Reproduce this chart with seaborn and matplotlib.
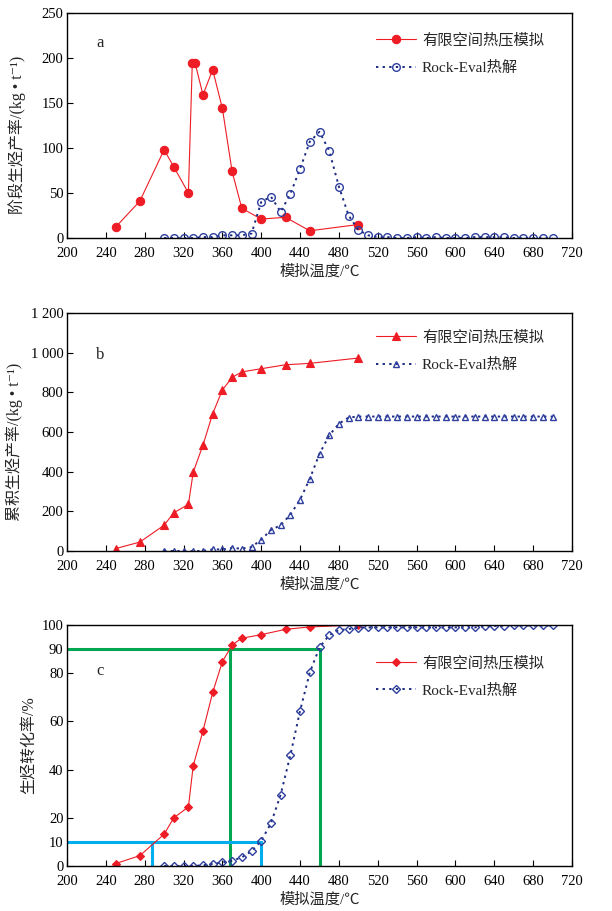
import numpy as np
import pandas as pd
import matplotlib
matplotlib.use("Agg")
import matplotlib.pyplot as plt
import seaborn as sns

# ---------------- data ----------------
# panel a: stage yield (kg/t)
a_red_T = [250, 275, 300, 310, 325, 329, 332, 340, 350, 360, 370, 380, 400, 425, 450, 500]
a_red_v = [12, 41, 98, 79, 50, 194, 194, 159, 187, 144, 74, 33, 21, 23, 8, 15]
re_T = list(range(300, 701, 10))
a_blue_v = [0, 0, 0, 0, 1, 1, 3, 3, 3, 5, 40, 46, 29, 49, 77, 107, 118, 97, 57, 25, 9,
            3, 1, 1, 0, 0, 1, 0, 1, 0, 0, 0, 1, 1, 1, 1, 0, 0, 0, 0, 0]

# panel b: cumulative yield (kg/t)
b_red_T = [250, 275, 300, 310, 325, 330, 340, 350, 360, 370, 380, 400, 425, 450, 500]
b_red_v = [12, 45, 130, 193, 235, 398, 534, 692, 812, 875, 903, 919, 939, 946, 973]
b_blue_v = [0, 0, 0, 0, 0, 8, 8, 15, 12, 20, 57, 106, 130, 183, 259, 364, 490, 583, 642,
            673, 678, 678, 678, 678, 678, 678, 678, 678, 678, 678, 678, 678, 678, 678,
            678, 678, 678, 678, 678, 678, 678]

# panel c: conversion (%)
c_red_T = b_red_T
c_red_v = [1, 4.3, 13.2, 20, 24.5, 41.7, 56, 72, 84.8, 91.7, 94.5, 96, 98.2, 99.2, 100]
c_blue_v = [0, 0, 0, 0, 0.3, 0.9, 1.5, 2.2, 3.6, 6.1, 10.5, 17.7, 29.6, 46, 64.4, 80.3,
            90.7, 95.8, 97.9, 98.3, 98.9, 99, 99, 99, 99, 99, 99, 99, 99, 99, 99, 99,
            99, 99.5, 99.6, 99.7, 99.8, 99.8, 99.8, 99.8, 99.8]

# reference lines in panel c
green_T = [368, 460]
green_level = 90
cyan_T = [288, 400]
cyan_level = 10

x_ticks = list(range(200, 721, 40))
a_yticks = [0, 50, 100, 150, 200, 250]
b_yticks = [0, 200, 400, 600, 800, 1000, 1200]
b_yticklabels = ["0", "200", "400", "600", "800", "1 000", "1 200"]
c_yticks = [0, 10, 20, 40, 60, 80, 90, 100]

lab_red = "有限空间热压模拟"
lab_blue = "Rock-Eval热解"
xlabel = "模拟温度/℃"
ylabels = ["阶段生烃产率/(kg • t⁻¹)", "累积生烃产率/(kg • t⁻¹)", "生烃转化率/%"]

# ---------------- style ----------------
sns.set_theme(style="ticks")
plt.rcParams["font.family"] = ["Liberation Serif", "Noto Sans CJK SC", "DejaVu Serif"]
plt.rcParams["axes.unicode_minus"] = False

RED = "#ee1c25"
NAVY = "#1b2a80"
BLUE_MK = "#2e3f9e"
GREEN = "#00a651"
CYAN = "#00aeef"

fig = plt.figure(figsize=(6.12, 9.11), dpi=100)
W, H = 612, 911
L, R = 67, 572
boxes = [(13, 238), (313, 551), (625, 866)]
axes = []
for top, bot in boxes:
    ax = fig.add_axes([L / W, 1 - bot / H, (R - L) / W, (bot - top) / H])
    axes.append(ax)


def style_axis(ax, yticks, ylim, ylab, lab_x, lab_y, yticklabels=None):
    ax.set_xlim(200, 720)
    ax.set_ylim(*ylim)
    ax.set_xticks(x_ticks)
    ax.set_yticks(yticks)
    if yticklabels is not None:
        ax.set_yticklabels(yticklabels)
    ax.tick_params(direction="in", length=4, width=0.8, labelsize=10.5, colors="black",
                   top=False, right=False)
    ax.tick_params(axis="x", pad=6.5)
    ax.tick_params(axis="y", pad=2.5)
    for s in ax.spines.values():
        s.set_linewidth(1.0)
        s.set_color("black")
    ax.set_xlabel(xlabel, fontsize=11, labelpad=3)
    ax.set_ylabel(ylab, fontsize=11.5)
    ax.yaxis.set_label_coords(lab_x, lab_y)
    ax.grid(False)


def draw(ax, xr, yr, xb, yb, mk_r, mk_b, ms_r, ms_b):
    df_r = pd.DataFrame({"T": xr, "v": yr})
    df_b = pd.DataFrame({"T": xb, "v": yb})
    sns.lineplot(data=df_r, x="T", y="v", ax=ax, color=RED, lw=0.8, marker=mk_r,
                 markersize=ms_r, markerfacecolor=RED, markeredgecolor=RED,
                 markeredgewidth=0.8, label=lab_red, sort=False)
    sns.lineplot(data=df_b, x="T", y="v", ax=ax, color=NAVY, lw=1.4,
                 linestyle=(0, (1.2, 2.2)), marker=mk_b, markersize=ms_b,
                 markerfacecolor="none", markeredgecolor=BLUE_MK,
                 markeredgewidth=1.0, label=lab_blue, sort=False)


# panel a
ax = axes[0]
draw(ax, a_red_T, a_red_v, re_T, a_blue_v, "o", "o", 6, 5.5)
style_axis(ax, a_yticks, (0, 250), ylabels[0], -0.082, 0.46)
ax.text(234, 217, "a", fontsize=12, ha="center", va="center")

# panel b
ax = axes[1]
draw(ax, b_red_T, b_red_v, re_T, b_blue_v, "^", "^", 5.5, 5)
style_axis(ax, b_yticks, (0, 1200), ylabels[1], -0.088, 0.46, b_yticklabels)
ax.text(234, 990, "b", fontsize=12, ha="center", va="center")

# panel c
ax = axes[2]
ax.plot([200, green_T[1]], [green_level, green_level], color=GREEN, lw=2.2, zorder=1)
for t in green_T:
    ax.plot([t, t], [0, green_level], color=GREEN, lw=2.2, zorder=1)
ax.plot([200, cyan_T[1]], [cyan_level, cyan_level], color=CYAN, lw=2.2, zorder=1)
for t in cyan_T:
    ax.plot([t, t], [0, cyan_level], color=CYAN, lw=2.2, zorder=1)
draw(ax, c_red_T, c_red_v, re_T, c_blue_v, "D", "D", 4.5, 4)
style_axis(ax, c_yticks, (0, 100), ylabels[2], -0.058, 0.5)
ax.text(234, 81, "c", fontsize=12, ha="center", va="center")

for ax, anchor in zip(axes, [(0.6, 0.94), (0.6, 0.955), (0.6, 0.9)]):
    ax.legend(loc="upper left", bbox_to_anchor=anchor, frameon=False, fontsize=11,
              handlelength=2.6, handletextpad=0.4, labelspacing=0.9, borderaxespad=0)

fig.savefig("out.png", dpi=100)
